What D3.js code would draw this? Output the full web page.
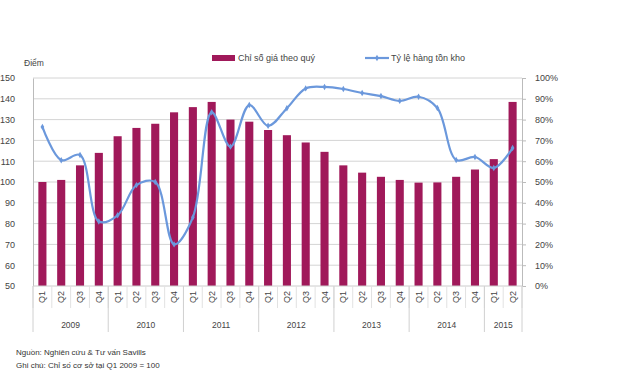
<!DOCTYPE html>
<html>
<head>
<meta charset="utf-8">
<script src="https://cdn.jsdelivr.net/npm/d3@7"></script>
<style>
  body { margin: 0; background: #fff; }
  svg { font-family: "Liberation Sans", Arial, sans-serif; }
</style>
</head>
<body>
<svg id="chart" width="620" height="377"></svg>
<script>
// quarters 2009 Q1 .. 2015 Q2
const quarters = ["Q1","Q2","Q3","Q4","Q1","Q2","Q3","Q4","Q1","Q2","Q3","Q4","Q1","Q2","Q3","Q4",
                  "Q1","Q2","Q3","Q4","Q1","Q2","Q3","Q4","Q1","Q2"];
const years = ["2009","2010","2011","2012","2013","2014","2015"];
const yearQuarterCount = [4, 4, 4, 4, 4, 4, 2];
const priceIndex = [100, 101, 108, 114, 122, 126, 128, 133.5, 136, 138.5, 130, 129, 125, 122.5, 119, 114.5,
                    108, 104.5, 102.5, 101, 99.7, 99.8, 102.5, 106, 111, 138.5];
const inventoryRate = [76.5, 60.5, 63, 31, 34, 48.5, 50, 20, 33, 83.5, 67, 87, 77, 85.5, 95, 95.7,
                       94.7, 92.8, 91.3, 89, 91, 85.6, 60.6, 62, 56.7, 66.3];
const leftTicks = [50, 60, 70, 80, 90, 100, 110, 120, 130, 140, 150];
const rightTicks = [0, 10, 20, 30, 40, 50, 60, 70, 80, 90, 100];

const barColor = "#a0195a";
const lineColor = "#6b98dc";
const textColor = "#444";

const svg = d3.select("#chart");
const plot = { left: 33, right: 522, top: 78, bottom: 286 };

const x = d3.scaleBand()
    .domain(d3.range(quarters.length))
    .range([plot.left, plot.right])
    .paddingInner(0.57)
    .paddingOuter(0.285);
const step = x.step();
const cx = i => x(i) + x.bandwidth() / 2;

const yL = d3.scaleLinear().domain([50, 150]).range([plot.bottom, plot.top]);
const yR = d3.scaleLinear().domain([0, 100]).range([plot.bottom, plot.top]);

// gridlines
svg.append("g").selectAll("line")
    .data(leftTicks.slice(1))
    .join("line")
    .attr("x1", plot.left).attr("x2", plot.right)
    .attr("y1", d => yL(d)).attr("y2", d => yL(d))
    .attr("stroke", "#d4d4d4").attr("stroke-width", 1);

// axes
const axL = svg.append("g")
    .attr("transform", `translate(${plot.left},0)`)
    .call(d3.axisLeft(yL).tickValues(leftTicks).tickSize(0).tickPadding(18));
const axR = svg.append("g")
    .attr("transform", `translate(${plot.right},0)`)
    .call(d3.axisRight(yR).tickValues(rightTicks).tickSize(4).tickPadding(9)
        .tickFormat(d => d + "%"));
[axL, axR].forEach(g => {
    g.select(".domain").attr("stroke", "#bbb");
    g.selectAll(".tick line").attr("stroke", "#bbb");
    g.selectAll("text").attr("fill", textColor).attr("font-size", 9);
});

// bars
svg.append("g").selectAll("rect")
    .data(priceIndex)
    .join("rect")
    .attr("x", (d, i) => x(i))
    .attr("width", x.bandwidth())
    .attr("y", d => yL(d))
    .attr("height", d => plot.bottom - yL(d))
    .attr("fill", barColor);

// bottom axis line
svg.append("line")
    .attr("x1", plot.left).attr("x2", plot.right)
    .attr("y1", plot.bottom).attr("y2", plot.bottom)
    .attr("stroke", "#ccc");

// line series
const line = d3.line()
    .x((d, i) => cx(i))
    .y(d => yR(d))
    .curve(d3.curveCatmullRom.alpha(0.5));
svg.append("path")
    .datum(inventoryRate)
    .attr("d", line)
    .attr("fill", "none")
    .attr("stroke", lineColor)
    .attr("stroke-width", 2.2);
svg.append("g").selectAll("path")
    .data(inventoryRate)
    .join("path")
    .attr("d", d3.symbol(d3.symbolDiamond, 12))
    .attr("transform", (d, i) => `translate(${cx(i)},${yR(d)})`)
    .attr("fill", lineColor);

// category axis: quarter labels + separators
const cat = svg.append("g");
cat.selectAll("line.q")
    .data(d3.range(quarters.length + 1))
    .join("line")
    .attr("class", "q")
    .attr("x1", i => plot.left + i * step).attr("x2", i => plot.left + i * step)
    .attr("y1", plot.bottom).attr("y2", plot.bottom + 22)
    .attr("stroke", "#e2e2e2");
cat.selectAll("text.q")
    .data(quarters)
    .join("text")
    .attr("class", "q")
    .attr("transform", (d, i) => `translate(${cx(i) + 3},${plot.bottom + 11}) rotate(-90)`)
    .attr("text-anchor", "middle")
    .attr("font-size", 9)
    .attr("fill", textColor)
    .text(d => d);

// year labels + separators
let start = 0;
const yearPos = years.map((y, k) => {
    const s = start;
    start += yearQuarterCount[k];
    return { year: y, s: s, e: start };
});
cat.selectAll("line.y")
    .data([0].concat(yearPos.map(d => d.e)))
    .join("line")
    .attr("class", "y")
    .attr("x1", i => plot.left + i * step).attr("x2", i => plot.left + i * step)
    .attr("y1", plot.bottom).attr("y2", plot.bottom + 46)
    .attr("stroke", "#d0d0d0");
cat.selectAll("text.y")
    .data(yearPos)
    .join("text")
    .attr("class", "y")
    .attr("x", d => plot.left + (d.s + d.e) / 2 * step)
    .attr("y", plot.bottom + 42)
    .attr("text-anchor", "middle")
    .attr("font-size", 8.5)
    .attr("fill", textColor)
    .text(d => d.year);

// unit label
svg.append("text")
    .attr("x", 24).attr("y", 66)
    .attr("font-size", 8.5)
    .attr("fill", textColor)
    .text("Điểm");

// legend
const lg = svg.append("g");
lg.append("rect")
    .attr("x", 212).attr("y", 55).attr("width", 23).attr("height", 6)
    .attr("fill", barColor);
lg.append("text")
    .attr("x", 238).attr("y", 61)
    .attr("font-size", 9).attr("fill", textColor)
    .text("Chỉ số giá theo quý");
lg.append("line")
    .attr("x1", 365).attr("x2", 389).attr("y1", 58).attr("y2", 58)
    .attr("stroke", lineColor).attr("stroke-width", 2.2);
lg.append("path")
    .attr("d", d3.symbol(d3.symbolDiamond, 12))
    .attr("transform", "translate(377,58)")
    .attr("fill", lineColor);
lg.append("text")
    .attr("x", 391).attr("y", 61)
    .attr("font-size", 9).attr("fill", textColor)
    .text("Tỷ lệ hàng tồn kho");

// footnotes
svg.append("text")
    .attr("x", 16).attr("y", 355)
    .attr("font-size", 8).attr("fill", "#333")
    .text("Nguồn: Nghiên cứu & Tư vấn Savills");
svg.append("text")
    .attr("x", 16).attr("y", 368)
    .attr("font-size", 8).attr("fill", "#333")
    .text("Ghi chú: Chỉ số cơ sở tại Q1 2009 = 100");
</script>
</body>
</html>
